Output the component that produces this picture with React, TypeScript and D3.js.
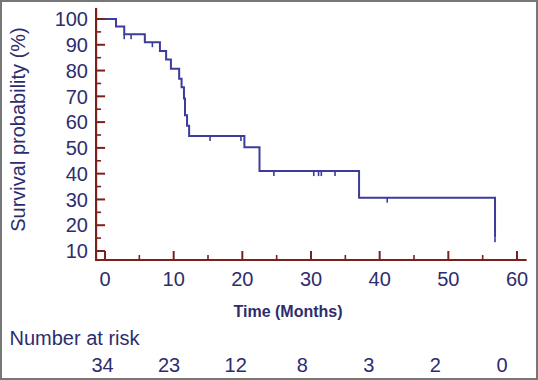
import React from "react";
import * as d3 from "d3";

const eventTimes = [0, 1.6, 2.8, 5.8, 8.0, 8.9, 9.6, 10.8, 11.15, 11.5, 11.65, 11.95, 12.25, 20.3, 22.5, 37.0, 56.8];
const survival = [100, 97.1, 94.1, 91.0, 87.6, 84.3, 80.7, 76.8, 73.5, 69.2, 62.7, 58.6, 54.6, 50.2, 41.0, 30.7, 15.3];
const censorTimes = [2.8, 3.8, 6.9, 15.3, 19.8, 24.6, 30.4, 31.1, 31.5, 33.5, 41.1, 56.8];

const xMajorTicks = [0, 10, 20, 30, 40, 50, 60];
const xMinorTicks = [5, 15, 25, 35, 45, 55];
const yMajorTicks = [10, 20, 30, 40, 50, 60, 70, 80, 90, 100];
const yMinorTicks = [15, 25, 35, 45, 55, 65, 75, 85, 95];

const riskTimes = [0, 10, 20, 30, 40, 50, 60];
const atRisk = [34, 23, 12, 8, 3, 2, 0];

const W = 538;
const H = 380;
const AXIS = "#7b1f1f";
const LABEL = "#2d2d6e";
const CURVE = "#3c3c9c";
const FONT = "'Liberation Sans', Arial, sans-serif";

export default function App() {
  const x = d3.scaleLinear().domain([0, 60]).range([105, 517]);
  const y = d3.scaleLinear().domain([10, 100]).range([251, 19]);
  const riskX = d3.scalePoint<number>().domain(riskTimes).range([102.5, 502]);

  const pts: [number, number][] = eventTimes.map((t, i) => [t, survival[i]]);
  const line = d3
    .line<[number, number]>()
    .x((d) => x(d[0]))
    .y((d) => y(d[1]))
    .curve(d3.curveStepAfter);

  const levelAt = (t: number) => {
    let v = survival[0];
    eventTimes.forEach((et, i) => {
      if (et <= t) v = survival[i];
    });
    return v;
  };

  const axisX = x(-1.3);
  const axisY = y(6.5);

  return (
    <svg
      width={W}
      height={H}
      style={{ position: "absolute", left: 0, top: 0, background: "#fff" }}
      fontFamily={FONT}
    >
      <rect x={1} y={1} width={W - 2} height={H - 2} fill="#fff" stroke="#777" strokeWidth={2} />

      {/* axes */}
      <line x1={axisX} x2={axisX} y1={y(104.3)} y2={axisY + 1} stroke={AXIS} strokeWidth={2.2} />
      <line x1={axisX} x2={x(61.4)} y1={axisY} y2={axisY} stroke={AXIS} strokeWidth={2.2} />

      {yMajorTicks.map((v) => (
        <line key={"ym" + v} x1={axisX} x2={axisX + 9} y1={y(v)} y2={y(v)} stroke={AXIS} strokeWidth={2} />
      ))}
      {yMinorTicks.map((v) => (
        <line key={"yn" + v} x1={axisX} x2={axisX + 5} y1={y(v)} y2={y(v)} stroke={AXIS} strokeWidth={1.6} />
      ))}
      {xMajorTicks.map((t) => (
        <line key={"xm" + t} x1={x(t)} x2={x(t)} y1={axisY} y2={axisY - 9} stroke={AXIS} strokeWidth={2} />
      ))}
      {xMinorTicks.map((t) => (
        <line key={"xn" + t} x1={x(t)} x2={x(t)} y1={axisY} y2={axisY - 5} stroke={AXIS} strokeWidth={1.6} />
      ))}

      {yMajorTicks.map((v) => (
        <text key={"yl" + v} x={88} y={y(v)} dy="0.36em" textAnchor="end" fontSize={20} fill={LABEL}>
          {v}
        </text>
      ))}
      {xMajorTicks.map((t) => (
        <text key={"xl" + t} x={x(t)} y={286} textAnchor="middle" fontSize={20} fill={LABEL}>
          {t}
        </text>
      ))}

      <text
        transform={`translate(24.5,129.5) rotate(-90)`}
        textAnchor="middle"
        fontSize={20}
        fill={LABEL}
      >
        Survival probability (%)
      </text>
      <text x={288} y={317} textAnchor="middle" fontSize={16} fontWeight="bold" fill={LABEL}>
        Time (Months)
      </text>

      {/* curve */}
      <path d={line(pts) || ""} fill="none" stroke={CURVE} strokeWidth={2} />
      {censorTimes.map((t, i) => (
        <line
          key={"c" + i}
          x1={x(t)}
          x2={x(t)}
          y1={y(levelAt(t))}
          y2={y(levelAt(t)) + 5}
          stroke={CURVE}
          strokeWidth={1.6}
        />
      ))}

      {/* number at risk */}
      <text x={9.5} y={345} fontSize={20} fill={LABEL}>
        Number at risk
      </text>
      {riskTimes.map((t, i) => (
        <text key={"r" + t} x={riskX(t)} y={372} textAnchor="middle" fontSize={20} fill={LABEL}>
          {atRisk[i]}
        </text>
      ))}
    </svg>
  );
}
